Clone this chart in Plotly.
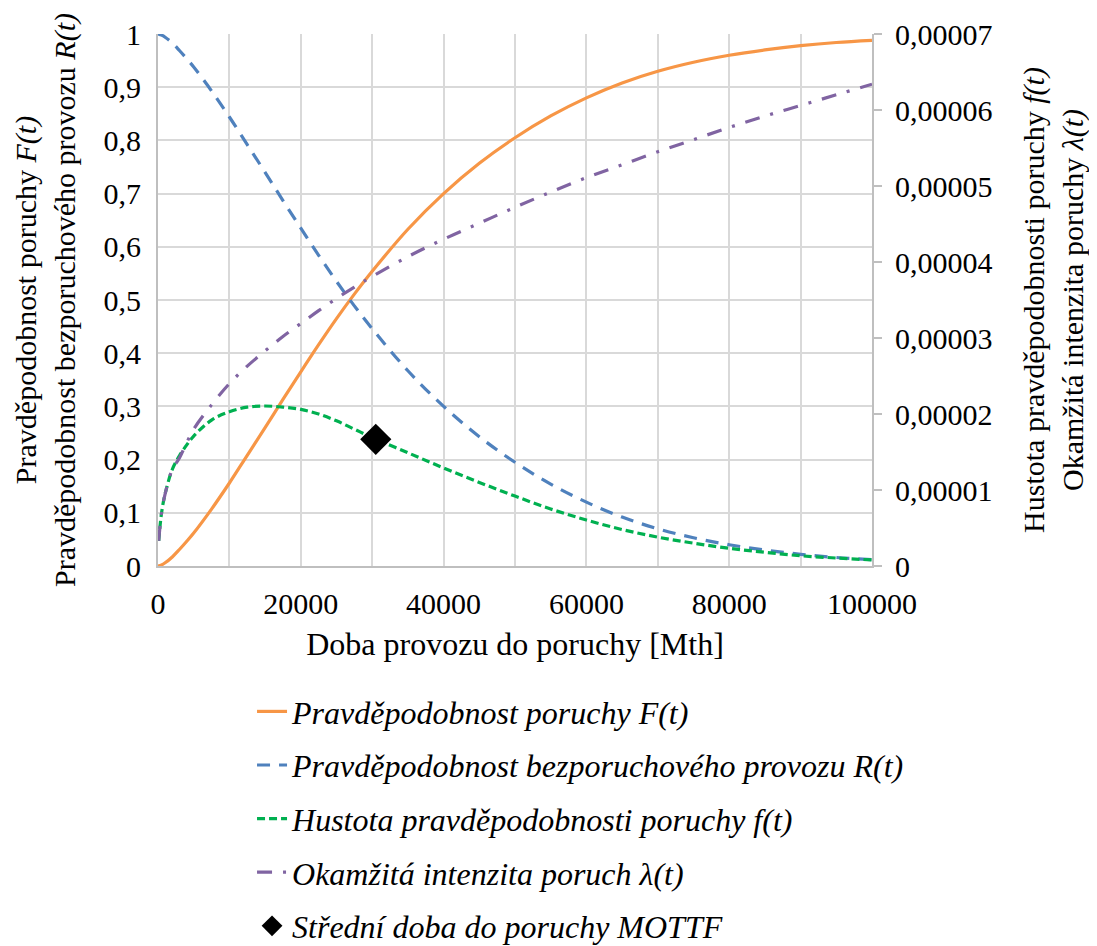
import plotly.graph_objects as go

# ---- data ----
t = [0, 100, 500, 1000, 2000, 3000, 4000, 5000, 7500, 10000, 12500, 15000, 17500,
     20000, 22500, 25000, 27500, 30000, 35000, 40000, 45000, 50000, 55000, 60000,
     65000, 70000, 75000, 80000, 85000, 90000, 95000, 100000]

F_t = [0, 0.0002, 0.002, 0.006, 0.017, 0.031, 0.046, 0.062, 0.107, 0.156, 0.208, 0.26,
       0.313, 0.365, 0.416, 0.465, 0.511, 0.554, 0.633, 0.70, 0.757, 0.805, 0.846, 0.88,
       0.908, 0.930, 0.947, 0.960, 0.970, 0.978, 0.984, 0.988]

R_t = [1, 0.9998, 0.998, 0.994, 0.983, 0.969, 0.954, 0.938, 0.893, 0.844, 0.792, 0.74,
       0.687, 0.635, 0.584, 0.535, 0.489, 0.446, 0.367, 0.30, 0.243, 0.195, 0.154, 0.12,
       0.092, 0.070, 0.053, 0.040, 0.030, 0.022, 0.016, 0.012]

# density f(t) and hazard lambda(t), in units of 1e-5
f_t_e5 = [None, 0.33, 0.70, 0.95, 1.27, 1.45, 1.59, 1.71, 1.92, 2.03, 2.09, 2.105, 2.09,
          2.06, 2.0, 1.91, 1.80, 1.69, 1.49, 1.29, 1.10, 0.92, 0.75, 0.605, 0.48, 0.38,
          0.30, 0.233, 0.18, 0.135, 0.105, 0.08]

lam_t_e5 = [None, 0.33, 0.70, 0.95, 1.27, 1.42, 1.62, 1.80, 2.12, 2.40, 2.63, 2.83, 3.02,
            3.19, 3.36, 3.52, 3.67, 3.81, 4.07, 4.30, 4.51, 4.72, 4.92, 5.11, 5.28, 5.45,
            5.61, 5.77, 5.92, 6.06, 6.20, 6.34]

mottf_t = [30500]
mottf_f_e5 = [1.667]

x_tickvals = [0, 10000, 20000, 30000, 40000, 50000, 60000, 70000, 80000, 90000, 100000]
x_ticktext = ["0", "", "20000", "", "40000", "", "60000", "", "80000", "", "100000"]
y_tickvals = [0, 0.1, 0.2, 0.3, 0.4, 0.5, 0.6, 0.7, 0.8, 0.9, 1.0]
y_ticktext = ["0", "0,1", "0,2", "0,3", "0,4", "0,5", "0,6", "0,7", "0,8", "0,9", "1"]
y2_tickvals_e5 = [0, 1, 2, 3, 4, 5, 6, 7]
y2_ticktext = ["0", "0,00001", "0,00002", "0,00003", "0,00004", "0,00005", "0,00006", "0,00007"]

SCALE = 1e-5
FONT = "Liberation Serif"

fig = go.Figure()
fig.add_trace(go.Scatter(x=t, y=F_t, mode="lines", name="<i>Pravděpodobnost poruchy F(t)</i>",
                         line=dict(color="#F79646", width=3.2, shape="spline"),
                         legendgroup="a"))
fig.add_trace(go.Scatter(x=t, y=R_t, mode="lines",
                         name="<i>Pravděpodobnost bezporuchového provozu R(t)</i>",
                         line=dict(color="#4F81BD", width=3.2, dash="13px,9px", shape="spline"),
                         legendgroup="b"))
fig.add_trace(go.Scatter(x=t, y=[None if v is None else v * SCALE for v in f_t_e5], mode="lines",
                         name="<i>Hustota pravděpodobnosti poruchy f(t)</i>",
                         line=dict(color="#00B050", width=3.2, dash="8px,4px", shape="spline"),
                         yaxis="y2", legendgroup="c"))
fig.add_trace(go.Scatter(x=t, y=[None if v is None else v * SCALE for v in lam_t_e5], mode="lines",
                         name="<i>Okamžitá intenzita poruch λ(t)</i>",
                         line=dict(color="#8064A2", width=3.2, dash="15px,11px,3px,11px",
                                   shape="spline"),
                         yaxis="y2", legendgroup="d"))
fig.add_trace(go.Scatter(x=mottf_t, y=[v * SCALE for v in mottf_f_e5], mode="markers",
                         name="<i>Střední doba do poruchy MOTTF</i>",
                         marker=dict(symbol="diamond", color="black", size=24),
                         yaxis="y2", legendgroup="e"))

fig.update_layout(
    width=1089, height=938,
    margin=dict(l=150, r=225, t=26, b=380, autoexpand=False),
    paper_bgcolor="white", plot_bgcolor="white",
    font=dict(family=FONT, size=30, color="black"),
    showlegend=True,
    legend=dict(x=0.1317, y=-0.222, xanchor="left", yanchor="top",
                font=dict(family=FONT, size=32), traceorder="grouped",
                tracegroupgap=9, bgcolor="rgba(0,0,0,0)"),
    xaxis=dict(range=[0, 100000], tickmode="array", tickvals=x_tickvals, ticktext=x_ticktext,
               showgrid=True, gridcolor="#d9d9d9", gridwidth=2, zeroline=False,
               showline=True, linecolor="#bfbfbf", linewidth=2, ticks="",
               ticklabelstandoff=10, automargin=False,
               tickfont=dict(family=FONT, size=30),
               title=dict(text="Doba provozu do poruchy [Mth]", standoff=14,
                          font=dict(family=FONT, size=32))),
    yaxis=dict(range=[0, 1], tickmode="array", tickvals=y_tickvals, ticktext=y_ticktext,
               showgrid=True, gridcolor="#d9d9d9", gridwidth=2, zeroline=False,
               showline=True, linecolor="#bfbfbf", linewidth=2, ticks="",
               ticklabelstandoff=9, automargin=False,
               tickfont=dict(family=FONT, size=30),
               title=dict(text="Pravděpodobnost poruchy <i>F(t)</i><br>"
                               "Pravděpodobnost bezporuchového provozu <i>R(t)</i>",
                          standoff=19, font=dict(family=FONT, size=30))),
    yaxis2=dict(range=[0, 7 * SCALE], overlaying="y", side="right", tickmode="array",
                tickvals=[v * SCALE for v in y2_tickvals_e5], ticktext=y2_ticktext,
                showgrid=False, zeroline=False, showline=True, linecolor="#bfbfbf",
                linewidth=2, ticks="outside", ticklen=8, tickcolor="#bfbfbf", tickwidth=2,
                ticklabelstandoff=7, automargin=False,
                tickfont=dict(family=FONT, size=30),
                title=dict(text="Hustota pravděpodobnosti poruchy <i>f(t)</i><br>"
                                "Okamžitá intenzita poruchy <i>λ(t)</i>",
                           standoff=31, font=dict(family=FONT, size=30))),
)

fig.write_html("out.html")
